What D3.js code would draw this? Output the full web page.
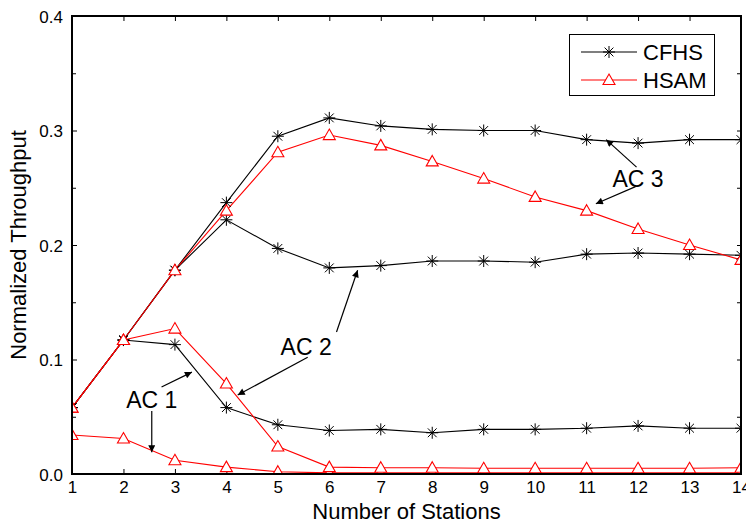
<!DOCTYPE html>
<html><head><meta charset="utf-8">
<script src="https://cdn.jsdelivr.net/npm/d3@7"></script>
<style>
html,body{margin:0;padding:0;background:#fff;}
svg{display:block;font-family:"Liberation Sans",Arial,sans-serif;}
</style></head>
<body>
<svg id="chart" width="746" height="524"></svg>
<script>
const stations = [1,2,3,4,5,6,7,8,9,10,11,12,13,14];
const cfhsAC3 = [0.058,0.117,0.178,0.237,0.295,0.311,0.304,0.301,0.300,0.300,0.292,0.289,0.292,0.292];
const cfhsAC2 = [0.058,0.117,0.178,0.222,0.197,0.180,0.182,0.186,0.186,0.185,0.192,0.193,0.192,0.191];
const cfhsAC1 = [0.058,0.117,0.113,0.058,0.043,0.038,0.039,0.036,0.039,0.039,0.040,0.042,0.040,0.040];
const hsamAC3 = [0.058,0.117,0.178,0.230,0.281,0.296,0.287,0.273,0.258,0.242,0.230,0.214,0.200,0.187];
const hsamAC2 = [0.058,0.117,0.127,0.079,0.024,0.006,0.0055,0.0055,0.005,0.005,0.005,0.005,0.005,0.0055];
const hsamAC1 = [0.034,0.031,0.012,0.006,0.002,0.001,0.001,0.001,0.001,0.001,0.001,0.001,0.001,0.001];
const yTicks = [0.0,0.1,0.2,0.3,0.4];
const yMinorTicks = [0.05,0.15,0.25,0.35];
const legendNames = ["CFHS","HSAM"];
const annotations = [
  {text:"AC 3", x:12.0, y:0.258, arrows:[[11.97,0.268,11.38,0.292],[11.95,0.251,11.18,0.236]]},
  {text:"AC 2", x:5.55, y:0.111, arrows:[[6.14,0.124,6.55,0.178],[5.58,0.102,4.22,0.069]]},
  {text:"AC 1", x:2.55, y:0.065, arrows:[[2.74,0.076,3.33,0.089],[2.55,0.055,2.55,0.019]]}
];

const svg = d3.select("#chart");
const L = 72, R = 741, T = 16, B = 474;
const x = d3.scaleLinear().domain([1,14]).range([L,R]);
const y = d3.scaleLinear().domain([0,0.4]).range([B,T]);

const defs = svg.append("defs");
defs.append("clipPath").attr("id","plotclip").append("rect")
  .attr("x",L).attr("y",T-6).attr("width",R-L).attr("height",B-T+6);
defs.append("marker").attr("id","arrow").attr("viewBox","0 0 10 10")
  .attr("refX",10).attr("refY",5).attr("markerWidth",9).attr("markerHeight",7)
  .attr("markerUnits","userSpaceOnUse").attr("orient","auto")
  .append("path").attr("d","M0,0L10,5L0,10z").attr("fill","#000");

// axes (inward ticks)
const gx = svg.append("g").attr("transform",`translate(0,${B})`)
  .call(d3.axisBottom(x).tickValues(stations).tickFormat(d3.format("d")).tickSizeInner(-5).tickSizeOuter(0));
const gxt = svg.append("g").attr("transform",`translate(0,${T})`)
  .call(d3.axisTop(x).tickValues(stations).tickFormat("").tickSizeInner(-5).tickSizeOuter(0));
const gy = svg.append("g").attr("transform",`translate(${L},0)`)
  .call(d3.axisLeft(y).tickValues(yTicks).tickFormat(d3.format(".1f")).tickSizeInner(-5).tickSizeOuter(0));
const gym = svg.append("g").attr("transform",`translate(${L},0)`)
  .call(d3.axisLeft(y).tickValues(yMinorTicks).tickFormat("").tickSizeInner(-4).tickSizeOuter(0));
const gyr = svg.append("g").attr("transform",`translate(${R},0)`)
  .call(d3.axisRight(y).tickValues(yTicks.concat(yMinorTicks)).tickFormat("").tickSizeInner(-4).tickSizeOuter(0));
[gx,gxt,gy,gym,gyr].forEach(g=>{
  g.select(".domain").remove();
  g.selectAll(".tick line").attr("stroke","#000").attr("stroke-width",1);
});
gx.selectAll(".tick text").attr("font-size",17).attr("fill","#000").attr("y",7).attr("dy","0.71em")
  .attr("font-family","Liberation Sans, Arial, sans-serif");
gy.selectAll(".tick text").attr("font-size",17).attr("fill","#000").attr("x",-9).attr("dy","0.36em")
  .attr("font-family","Liberation Sans, Arial, sans-serif");

// series
const series = [
  {v:cfhsAC3,c:"#000",m:"star"},{v:cfhsAC2,c:"#000",m:"star"},{v:cfhsAC1,c:"#000",m:"star"},
  {v:hsamAC1,c:"#ff0000",m:"tri"},{v:hsamAC2,c:"#ff0000",m:"tri"},{v:hsamAC3,c:"#ff0000",m:"tri"}
];
const plot = svg.append("g").attr("clip-path","url(#plotclip)");
const line = d3.line().x((d,i)=>x(stations[i])).y(d=>y(d));
const starPath = "M0,-6L0,6M-6,0L6,0M-4.4,-4.4L4.4,4.4M-4.4,4.4L4.4,-4.4";
const triPath = "M0,-6L6,4.5L-6,4.5Z";
function drawMarker(g, type, color, px, py){
  if(type==="star"){
    g.append("path").attr("d",starPath).attr("transform",`translate(${px},${py})`)
      .attr("stroke",color).attr("stroke-width",1).attr("fill","none");
  } else {
    g.append("path").attr("d",triPath).attr("transform",`translate(${px},${py})`)
      .attr("stroke",color).attr("stroke-width",1.1).attr("fill","#fff");
  }
}
series.forEach(s=>{
  plot.append("path").datum(s.v).attr("d",line).attr("fill","none").attr("stroke",s.c).attr("stroke-width",1.1);
});
series.forEach(s=>{
  s.v.forEach((d,i)=>drawMarker(plot,s.m,s.c,x(stations[i]),y(d)));
});

// frame
svg.append("rect").attr("x",L).attr("y",T).attr("width",R-L).attr("height",B-T)
  .attr("fill","none").attr("stroke","#000").attr("stroke-width",2);

// annotations
annotations.forEach(a=>{
  svg.append("text").attr("x",x(a.x)).attr("y",y(a.y)).attr("text-anchor","middle")
    .attr("dy","0.36em").attr("font-size",23).attr("fill","#000").text(a.text);
  a.arrows.forEach(ar=>{
    svg.append("line").attr("x1",x(ar[0])).attr("y1",y(ar[1])).attr("x2",x(ar[2])).attr("y2",y(ar[3]))
      .attr("stroke","#000").attr("stroke-width",1.2).attr("marker-end","url(#arrow)");
  });
});

// legend
const lg = svg.append("g");
lg.append("rect").attr("x",569.5).attr("y",34.5).attr("width",145).attr("height",61)
  .attr("fill","#fff").attr("stroke","#000").attr("stroke-width",1);
const lc = [{c:"#000",m:"star"},{c:"#ff0000",m:"tri"}];
legendNames.forEach((n,i)=>{
  const ly = 52 + i*28;
  lg.append("line").attr("x1",581).attr("x2",637).attr("y1",ly).attr("y2",ly).attr("stroke",lc[i].c).attr("stroke-width",1.1);
  drawMarker(lg, lc[i].m, lc[i].c, 609, ly);
  lg.append("text").attr("x",643).attr("y",ly).attr("dy","0.36em").attr("font-size",22).attr("fill","#000").text(n);
});

// axis titles
svg.append("text").attr("x",(L+R)/2).attr("y",519).attr("text-anchor","middle")
  .attr("font-size",22).attr("fill","#000").text("Number of Stations");
svg.append("text").attr("transform",`translate(26,${(T+B)/2}) rotate(-90)`).attr("text-anchor","middle")
  .attr("font-size",22).attr("fill","#000").text("Normalized Throughput");
</script>
</body></html>
